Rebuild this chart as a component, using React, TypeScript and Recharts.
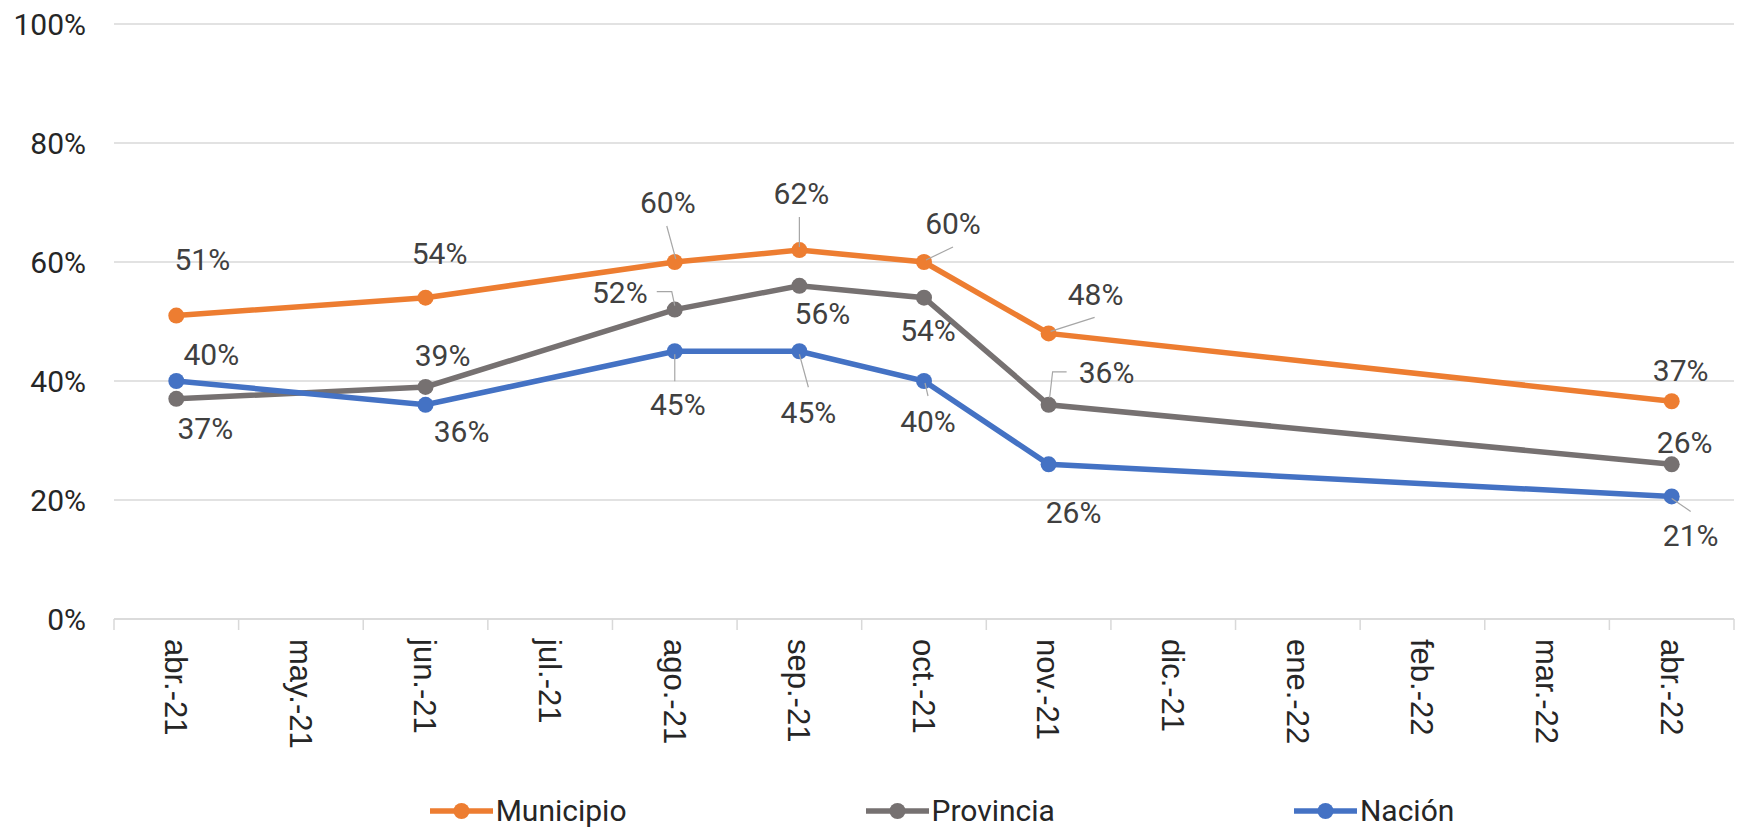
import React from 'react';
import { LineChart, Line, XAxis, YAxis, CartesianGrid, Legend, LabelList } from 'recharts';

const months = ['abr.-21', 'may.-21', 'jun.-21', 'jul.-21', 'ago.-21', 'sep.-21', 'oct.-21', 'nov.-21', 'dic.-21', 'ene.-22', 'feb.-22', 'mar.-22', 'abr.-22'];
const municipio = [51, null, 54, null, 60, 62, 60, 48, null, null, null, null, 36.6];
const provincia = [37, null, 39, null, 52, 56, 54, 36, null, null, null, null, 26];
const nacion = [40, null, 36, null, 45, 45, 40, 26, null, null, null, null, 20.6];
const yTicks = [0, 20, 40, 60, 80, 100];

const seriesNames = ['Municipio', 'Provincia', 'Nación'];
const seriesColors = ['#ED7D31', '#767171', '#4472C4'];

const data = months.map((m, i) => ({
  month: m,
  municipio: municipio[i],
  provincia: provincia[i],
  nacion: nacion[i],
}));

// layout / style
const W = 1742;
const H = 829;
const Y_AXIS_W = 114;
const RIGHT = 8;
const PLOT_W = W - Y_AXIS_W - RIGHT;
const BAND = PLOT_W / months.length;
const FONT = 'Roboto, "Liberation Sans", sans-serif';
const GRID = '#d9d9d9';

type Place = { d: [number, number]; lead?: number[][] } | null;
// label placement relative to each point (style only)
const muniPlace: Place[] = [
  { d: [26, -56] }, null, { d: [14, -44] }, null,
  { d: [-7, -60], lead: [[-8, -36], [1, -3]] },
  { d: [2, -57], lead: [[0, -33], [0, -3]] },
  { d: [29, -39], lead: [[29, -15], [2, -2]] },
  { d: [47, -39], lead: [[46, -16], [2, -2]] },
  null, null, null, null, { d: [9, -31] },
];
const provPlace: Place[] = [
  { d: [29, 30] }, null, { d: [17, -31] }, null,
  { d: [-55, -17], lead: [[-18, -18], [-3, -18], [0, -4]] },
  { d: [23, 28] },
  { d: [4, 33] },
  { d: [58, -32], lead: [[18, -33], [4, -33], [1, -7]] },
  null, null, null, null, { d: [13, -22] },
];
const nacPlace: Place[] = [
  { d: [35, -27] }, null, { d: [36, 27] }, null,
  { d: [3, 53], lead: [[0, 3], [0, 30]] },
  { d: [9, 61], lead: [[0, 3], [9, 36]] },
  { d: [4, 40], lead: [[1, 2], [4, 15]] },
  { d: [25, 48] },
  null, null, null, null, { d: [19, 39], lead: [[0, 2], [19, 15]] },
];

const makeLabel = (places: Place[]) => (props: any) => {
  const { x, y, value, index } = props;
  if (value == null || x == null || y == null) return null;
  const p = places[index];
  if (!p) return null;
  return (
    <g>
      {p.lead && (
        <polyline
          points={p.lead.map(([a, b]) => `${x + a},${y + b}`).join(' ')}
          fill="none"
          stroke="#a6a6a6"
          strokeWidth={1.2}
        />
      )}
      <text
        x={x + p.d[0]}
        y={y + p.d[1]}
        textAnchor="middle"
        dominantBaseline="central"
        fontSize={30}
        fontFamily={FONT}
        fill="#404040"
      >
        {Math.round(Number(value)) + '%'}
      </text>
    </g>
  );
};

const MonthTick = (props: any) => {
  const { x, y, payload, index } = props;
  const half = BAND / 2;
  return (
    <g>
      <line x1={x - half} x2={x - half} y1={y} y2={y + 11} stroke={GRID} strokeWidth={1.5} />
      {index === months.length - 1 && (
        <line x1={x + half} x2={x + half} y1={y} y2={y + 11} stroke={GRID} strokeWidth={1.5} />
      )}
      <text
        transform={`translate(${x},${y + 20}) rotate(90)`}
        dy="0.36em"
        textAnchor="start"
        fontSize={31}
        fontFamily='"Liberation Sans", Arial, sans-serif'
        fill="#262626"
      >
        {payload.value}
      </text>
    </g>
  );
};

const LegendContent = () => (
  <div
    style={{
      height: 36,
      display: 'flex',
      justifyContent: 'center',
      alignItems: 'center',
      gap: 239,
      paddingLeft: 142,
      boxSizing: 'border-box',
      width: W,
    }}
  >
    {seriesNames.map((n, i) => (
      <div key={n} style={{ display: 'flex', alignItems: 'center' }}>
        <svg width={66} height={20}>
          <line x1={0} x2={63} y1={10} y2={10} stroke={seriesColors[i]} strokeWidth={5.5} />
          <circle cx={31.5} cy={10} r={8} fill={seriesColors[i]} />
        </svg>
        <span style={{ fontFamily: FONT, fontSize: 30, color: '#262626', lineHeight: '36px' }}>{n}</span>
      </div>
    ))}
  </div>
);

export default function App() {
  return (
    <div style={{ position: 'absolute', left: 0, top: 0, width: W, height: H, background: '#fff' }}>
      <LineChart width={W} height={H} data={data} margin={{ top: 24, right: RIGHT, left: 0, bottom: 0 }}>
        <CartesianGrid vertical={false} stroke={GRID} strokeWidth={1.5} />
        <XAxis
          dataKey="month"
          interval={0}
          tickLine={false}
          tickSize={0}
          tickMargin={0}
          axisLine={{ stroke: GRID, strokeWidth: 1.5 }}
          padding={{ left: BAND / 2, right: BAND / 2 }}
          height={174}
          tick={<MonthTick />}
        />
        <YAxis
          width={Y_AXIS_W}
          domain={[0, 100]}
          ticks={yTicks}
          axisLine={false}
          tickLine={false}
          tickMargin={22}
          tickFormatter={(v: number) => v + '%'}
          tick={{ fill: '#262626', fontSize: 30, fontFamily: FONT }}
        />
        <Legend verticalAlign="bottom" content={<LegendContent />} wrapperStyle={{ left: 0, width: W }} />
        <Line
          name="Municipio"
          dataKey="municipio"
          stroke={seriesColors[0]}
          strokeWidth={5.5}
          dot={{ r: 8, fill: seriesColors[0], stroke: 'none' }}
          connectNulls
          isAnimationActive={false}
        >
          <LabelList dataKey="municipio" content={makeLabel(muniPlace)} />
        </Line>
        <Line
          name="Provincia"
          dataKey="provincia"
          stroke={seriesColors[1]}
          strokeWidth={5.5}
          dot={{ r: 8, fill: seriesColors[1], stroke: 'none' }}
          connectNulls
          isAnimationActive={false}
        >
          <LabelList dataKey="provincia" content={makeLabel(provPlace)} />
        </Line>
        <Line
          name="Nación"
          dataKey="nacion"
          stroke={seriesColors[2]}
          strokeWidth={5.5}
          dot={{ r: 8, fill: seriesColors[2], stroke: 'none' }}
          connectNulls
          isAnimationActive={false}
        >
          <LabelList dataKey="nacion" content={makeLabel(nacPlace)} />
        </Line>
      </LineChart>
    </div>
  );
}
